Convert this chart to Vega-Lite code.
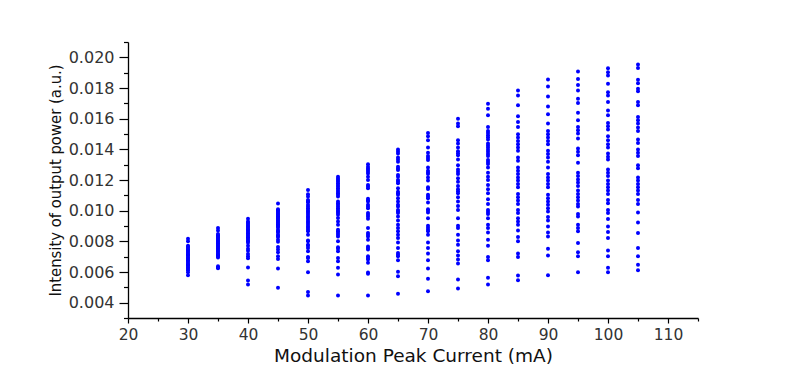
{
  "$schema": "https://vega.github.io/schema/vega-lite/v6.json",
  "autosize": {"type": "none"},
  "width": 570,
  "height": 276,
  "padding": {"left": 128, "top": 42, "right": 96, "bottom": 50},
  "background": "white",
  "config": {"view": {"stroke": null}},
  "data": {"values": [
    {"x":30,"y":0.00817},{"x":30,"y":0.0080},{"x":30,"y":0.00772},{"x":30,"y":0.00765},{"x":30,"y":0.00757},{"x":30,"y":0.00749},{"x":30,"y":0.00741},{"x":30,"y":0.00732},{"x":30,"y":0.00724},{"x":30,"y":0.00716},{"x":30,"y":0.00709},{"x":30,"y":0.00700},{"x":30,"y":0.00692},{"x":30,"y":0.00684},{"x":30,"y":0.00676},{"x":30,"y":0.00668},{"x":30,"y":0.00659},{"x":30,"y":0.00651},{"x":30,"y":0.00644},{"x":30,"y":0.00635},{"x":30,"y":0.00627},{"x":30,"y":0.00619},{"x":30,"y":0.00612},{"x":30,"y":0.00599},{"x":30,"y":0.00579},
    {"x":35,"y":0.00887},{"x":35,"y":0.00871},{"x":35,"y":0.00848},{"x":35,"y":0.0084},{"x":35,"y":0.00832},{"x":35,"y":0.00825},{"x":35,"y":0.00817},{"x":35,"y":0.0081},{"x":35,"y":0.00802},{"x":35,"y":0.00795},{"x":35,"y":0.00787},{"x":35,"y":0.0078},{"x":35,"y":0.00772},{"x":35,"y":0.00765},{"x":35,"y":0.00757},{"x":35,"y":0.0075},{"x":35,"y":0.00741},{"x":35,"y":0.00733},{"x":35,"y":0.00724},{"x":35,"y":0.00716},{"x":35,"y":0.00709},{"x":35,"y":0.00701},{"x":35,"y":0.00694},{"x":35,"y":0.00637},{"x":35,"y":0.00630},{"x":35,"y":0.00624},
    {"x":40,"y":0.00947},{"x":40,"y":0.0093},{"x":40,"y":0.00921},{"x":40,"y":0.00913},{"x":40,"y":0.00904},{"x":40,"y":0.00895},{"x":40,"y":0.00887},{"x":40,"y":0.00878},{"x":40,"y":0.0087},{"x":40,"y":0.00861},{"x":40,"y":0.00852},{"x":40,"y":0.00843},{"x":40,"y":0.00835},{"x":40,"y":0.00826},{"x":40,"y":0.00818},{"x":40,"y":0.00809},{"x":40,"y":0.008},{"x":40,"y":0.00791},{"x":40,"y":0.00772},{"x":40,"y":0.00752},{"x":40,"y":0.00739},{"x":40,"y":0.00718},{"x":40,"y":0.00702},{"x":40,"y":0.00689},{"x":40,"y":0.00629},{"x":40,"y":0.00545},{"x":40,"y":0.00519},
    {"x":45,"y":0.01046},{"x":45,"y":0.0101},{"x":45,"y":0.01002},{"x":45,"y":0.00994},{"x":45,"y":0.00986},{"x":45,"y":0.00979},{"x":45,"y":0.00971},{"x":45,"y":0.00964},{"x":45,"y":0.00956},{"x":45,"y":0.00949},{"x":45,"y":0.00941},{"x":45,"y":0.00934},{"x":45,"y":0.00926},{"x":45,"y":0.00919},{"x":45,"y":0.00911},{"x":45,"y":0.00903},{"x":45,"y":0.00896},{"x":45,"y":0.00889},{"x":45,"y":0.00874},{"x":45,"y":0.00866},{"x":45,"y":0.00858},{"x":45,"y":0.00843},{"x":45,"y":0.00835},{"x":45,"y":0.00828},{"x":45,"y":0.00811},{"x":45,"y":0.00798},{"x":45,"y":0.00763},{"x":45,"y":0.00746},{"x":45,"y":0.00728},{"x":45,"y":0.00702},{"x":45,"y":0.00685},{"x":45,"y":0.00623},{"x":45,"y":0.00497},
    {"x":50,"y":0.01135},{"x":50,"y":0.01107},{"x":50,"y":0.01092},{"x":50,"y":0.0107},{"x":50,"y":0.01062},{"x":50,"y":0.01055},{"x":50,"y":0.01038},{"x":50,"y":0.01027},{"x":50,"y":0.01016},{"x":50,"y":0.01005},{"x":50,"y":0.00994},{"x":50,"y":0.00984},{"x":50,"y":0.00973},{"x":50,"y":0.00962},{"x":50,"y":0.00952},{"x":50,"y":0.00941},{"x":50,"y":0.0093},{"x":50,"y":0.00919},{"x":50,"y":0.00908},{"x":50,"y":0.00897},{"x":50,"y":0.00887},{"x":50,"y":0.00876},{"x":50,"y":0.00865},{"x":50,"y":0.00843},{"x":50,"y":0.00806},{"x":50,"y":0.008},{"x":50,"y":0.00778},{"x":50,"y":0.00772},{"x":50,"y":0.00757},{"x":50,"y":0.00735},{"x":50,"y":0.00698},{"x":50,"y":0.00692},{"x":50,"y":0.0067},{"x":50,"y":0.00599},{"x":50,"y":0.00469},{"x":50,"y":0.00447},
    {"x":55,"y":0.01221},{"x":55,"y":0.0121},{"x":55,"y":0.012},{"x":55,"y":0.0119},{"x":55,"y":0.01179},{"x":55,"y":0.01168},{"x":55,"y":0.01157},{"x":55,"y":0.01146},{"x":55,"y":0.01135},{"x":55,"y":0.01124},{"x":55,"y":0.01114},{"x":55,"y":0.01103},{"x":55,"y":0.01092},{"x":55,"y":0.01059},{"x":55,"y":0.01049},{"x":55,"y":0.01038},{"x":55,"y":0.01027},{"x":55,"y":0.01016},{"x":55,"y":0.01005},{"x":55,"y":0.00994},{"x":55,"y":0.00984},{"x":55,"y":0.00973},{"x":55,"y":0.00952},{"x":55,"y":0.0093},{"x":55,"y":0.00908},{"x":55,"y":0.00876},{"x":55,"y":0.00865},{"x":55,"y":0.00854},{"x":55,"y":0.00843},{"x":55,"y":0.00832},{"x":55,"y":0.008},{"x":55,"y":0.00761},{"x":55,"y":0.00751},{"x":55,"y":0.00735},{"x":55,"y":0.00692},{"x":55,"y":0.0067},{"x":55,"y":0.00627},{"x":55,"y":0.00584},{"x":55,"y":0.00447},
    {"x":60,"y":0.01302},{"x":60,"y":0.01286},{"x":60,"y":0.01275},{"x":60,"y":0.01265},{"x":60,"y":0.01254},{"x":60,"y":0.01243},{"x":60,"y":0.01221},{"x":60,"y":0.012},{"x":60,"y":0.01168},{"x":60,"y":0.01157},{"x":60,"y":0.01146},{"x":60,"y":0.01077},{"x":60,"y":0.01068},{"x":60,"y":0.01059},{"x":60,"y":0.01038},{"x":60,"y":0.01027},{"x":60,"y":0.01016},{"x":60,"y":0.00984},{"x":60,"y":0.00973},{"x":60,"y":0.00962},{"x":60,"y":0.00947},{"x":60,"y":0.00887},{"x":60,"y":0.00854},{"x":60,"y":0.00843},{"x":60,"y":0.00832},{"x":60,"y":0.00811},{"x":60,"y":0.00767},{"x":60,"y":0.00757},{"x":60,"y":0.00746},{"x":60,"y":0.00702},{"x":60,"y":0.00692},{"x":60,"y":0.00681},{"x":60,"y":0.0066},{"x":60,"y":0.00596},{"x":60,"y":0.00588},{"x":60,"y":0.00447},
    {"x":65,"y":0.01399},{"x":65,"y":0.01386},{"x":65,"y":0.01373},{"x":65,"y":0.01347},{"x":65,"y":0.01334},{"x":65,"y":0.01319},{"x":65,"y":0.01286},{"x":65,"y":0.01275},{"x":65,"y":0.01265},{"x":65,"y":0.01232},{"x":65,"y":0.01221},{"x":65,"y":0.012},{"x":65,"y":0.0119},{"x":65,"y":0.01179},{"x":65,"y":0.01146},{"x":65,"y":0.01124},{"x":65,"y":0.01114},{"x":65,"y":0.01103},{"x":65,"y":0.01081},{"x":65,"y":0.01059},{"x":65,"y":0.01038},{"x":65,"y":0.01027},{"x":65,"y":0.01005},{"x":65,"y":0.00994},{"x":65,"y":0.00984},{"x":65,"y":0.00962},{"x":65,"y":0.00936},{"x":65,"y":0.00908},{"x":65,"y":0.00887},{"x":65,"y":0.00865},{"x":65,"y":0.00843},{"x":65,"y":0.00822},{"x":65,"y":0.00793},{"x":65,"y":0.00757},{"x":65,"y":0.00724},{"x":65,"y":0.00713},{"x":65,"y":0.00702},{"x":65,"y":0.00676},{"x":65,"y":0.00601},{"x":65,"y":0.00573},{"x":65,"y":0.00458},
    {"x":70,"y":0.01507},{"x":70,"y":0.01485},{"x":70,"y":0.0146},{"x":70,"y":0.01412},{"x":70,"y":0.01377},{"x":70,"y":0.01356},{"x":70,"y":0.01343},{"x":70,"y":0.0133},{"x":70,"y":0.01282},{"x":70,"y":0.0126},{"x":70,"y":0.01249},{"x":70,"y":0.01239},{"x":70,"y":0.01217},{"x":70,"y":0.01196},{"x":70,"y":0.01153},{"x":70,"y":0.01142},{"x":70,"y":0.01103},{"x":70,"y":0.01092},{"x":70,"y":0.01081},{"x":70,"y":0.01053},{"x":70,"y":0.0101},{"x":70,"y":0.00999},{"x":70,"y":0.00988},{"x":70,"y":0.00951},{"x":70,"y":0.00902},{"x":70,"y":0.00889},{"x":70,"y":0.00876},{"x":70,"y":0.00865},{"x":70,"y":0.00843},{"x":70,"y":0.00793},{"x":70,"y":0.00757},{"x":70,"y":0.0072},{"x":70,"y":0.00676},{"x":70,"y":0.00623},{"x":70,"y":0.00556},{"x":70,"y":0.00475},
    {"x":75,"y":0.016},{"x":75,"y":0.01568},{"x":75,"y":0.0155},{"x":75,"y":0.0146},{"x":75,"y":0.01438},{"x":75,"y":0.01412},{"x":75,"y":0.01388},{"x":75,"y":0.01375},{"x":75,"y":0.01362},{"x":75,"y":0.01334},{"x":75,"y":0.01297},{"x":75,"y":0.01269},{"x":75,"y":0.01254},{"x":75,"y":0.01239},{"x":75,"y":0.01211},{"x":75,"y":0.01189},{"x":75,"y":0.01161},{"x":75,"y":0.0114},{"x":75,"y":0.01127},{"x":75,"y":0.01114},{"x":75,"y":0.01088},{"x":75,"y":0.01059},{"x":75,"y":0.01031},{"x":75,"y":0.01005},{"x":75,"y":0.00951},{"x":75,"y":0.00902},{"x":75,"y":0.00887},{"x":75,"y":0.00843},{"x":75,"y":0.00806},{"x":75,"y":0.00778},{"x":75,"y":0.00735},{"x":75,"y":0.00707},{"x":75,"y":0.00681},{"x":75,"y":0.00655},{"x":75,"y":0.00551},{"x":75,"y":0.00493},
    {"x":80,"y":0.01698},{"x":80,"y":0.01665},{"x":80,"y":0.01622},{"x":80,"y":0.01546},{"x":80,"y":0.0152},{"x":80,"y":0.01506},{"x":80,"y":0.01492},{"x":80,"y":0.01478},{"x":80,"y":0.01464},{"x":80,"y":0.01438},{"x":80,"y":0.01425},{"x":80,"y":0.01412},{"x":80,"y":0.01398},{"x":80,"y":0.01384},{"x":80,"y":0.0137},{"x":80,"y":0.01356},{"x":80,"y":0.0133},{"x":80,"y":0.01317},{"x":80,"y":0.01304},{"x":80,"y":0.01282},{"x":80,"y":0.01247},{"x":80,"y":0.01221},{"x":80,"y":0.012},{"x":80,"y":0.01168},{"x":80,"y":0.0114},{"x":80,"y":0.01114},{"x":80,"y":0.01075},{"x":80,"y":0.01044},{"x":80,"y":0.01005},{"x":80,"y":0.00992},{"x":80,"y":0.00979},{"x":80,"y":0.00951},{"x":80,"y":0.00908},{"x":80,"y":0.00887},{"x":80,"y":0.00858},{"x":80,"y":0.00811},{"x":80,"y":0.00772},{"x":80,"y":0.00698},{"x":80,"y":0.00676},{"x":80,"y":0.00562},{"x":80,"y":0.00519},
    {"x":85,"y":0.01784},{"x":85,"y":0.01751},{"x":85,"y":0.01687},{"x":85,"y":0.01615},{"x":85,"y":0.01578},{"x":85,"y":0.01546},{"x":85,"y":0.01498},{"x":85,"y":0.01477},{"x":85,"y":0.01455},{"x":85,"y":0.01433},{"x":85,"y":0.01412},{"x":85,"y":0.0139},{"x":85,"y":0.01347},{"x":85,"y":0.01325},{"x":85,"y":0.01282},{"x":85,"y":0.0126},{"x":85,"y":0.01239},{"x":85,"y":0.01217},{"x":85,"y":0.01196},{"x":85,"y":0.01174},{"x":85,"y":0.01153},{"x":85,"y":0.01109},{"x":85,"y":0.01088},{"x":85,"y":0.01066},{"x":85,"y":0.01044},{"x":85,"y":0.01005},{"x":85,"y":0.00984},{"x":85,"y":0.00951},{"x":85,"y":0.00929},{"x":85,"y":0.00908},{"x":85,"y":0.00871},{"x":85,"y":0.00828},{"x":85,"y":0.008},{"x":85,"y":0.0072},{"x":85,"y":0.00698},{"x":85,"y":0.00577},{"x":85,"y":0.00546},
    {"x":90,"y":0.01855},{"x":90,"y":0.0181},{"x":90,"y":0.01745},{"x":90,"y":0.0168},{"x":90,"y":0.01628},{"x":90,"y":0.01568},{"x":90,"y":0.0152},{"x":90,"y":0.01498},{"x":90,"y":0.01477},{"x":90,"y":0.01455},{"x":90,"y":0.01433},{"x":90,"y":0.0139},{"x":90,"y":0.01369},{"x":90,"y":0.01347},{"x":90,"y":0.01319},{"x":90,"y":0.01282},{"x":90,"y":0.01239},{"x":90,"y":0.01217},{"x":90,"y":0.01196},{"x":90,"y":0.01174},{"x":90,"y":0.01153},{"x":90,"y":0.01103},{"x":90,"y":0.01081},{"x":90,"y":0.01059},{"x":90,"y":0.01038},{"x":90,"y":0.01016},{"x":90,"y":0.00994},{"x":90,"y":0.00958},{"x":90,"y":0.00936},{"x":90,"y":0.00897},{"x":90,"y":0.00858},{"x":90,"y":0.00832},{"x":90,"y":0.00752},{"x":90,"y":0.00707},{"x":90,"y":0.00579},
    {"x":95,"y":0.01907},{"x":95,"y":0.01859},{"x":95,"y":0.0182},{"x":95,"y":0.01784},{"x":95,"y":0.0173},{"x":95,"y":0.01702},{"x":95,"y":0.01639},{"x":95,"y":0.0159},{"x":95,"y":0.01546},{"x":95,"y":0.01524},{"x":95,"y":0.01503},{"x":95,"y":0.0147},{"x":95,"y":0.01405},{"x":95,"y":0.01384},{"x":95,"y":0.01362},{"x":95,"y":0.01312},{"x":95,"y":0.01247},{"x":95,"y":0.01226},{"x":95,"y":0.01204},{"x":95,"y":0.01183},{"x":95,"y":0.01161},{"x":95,"y":0.01131},{"x":95,"y":0.01109},{"x":95,"y":0.01088},{"x":95,"y":0.01066},{"x":95,"y":0.01044},{"x":95,"y":0.01027},{"x":95,"y":0.00979},{"x":95,"y":0.00962},{"x":95,"y":0.00908},{"x":95,"y":0.00887},{"x":95,"y":0.00865},{"x":95,"y":0.00789},{"x":95,"y":0.00728},{"x":95,"y":0.00702},{"x":95,"y":0.00599},
    {"x":100,"y":0.01929},{"x":100,"y":0.01903},{"x":100,"y":0.01881},{"x":100,"y":0.01827},{"x":100,"y":0.01773},{"x":100,"y":0.01751},{"x":100,"y":0.01708},{"x":100,"y":0.01654},{"x":100,"y":0.01622},{"x":100,"y":0.01572},{"x":100,"y":0.0155},{"x":100,"y":0.01529},{"x":100,"y":0.01485},{"x":100,"y":0.0146},{"x":100,"y":0.01433},{"x":100,"y":0.01412},{"x":100,"y":0.01373},{"x":100,"y":0.01351},{"x":100,"y":0.01334},{"x":100,"y":0.01269},{"x":100,"y":0.01247},{"x":100,"y":0.01226},{"x":100,"y":0.01196},{"x":100,"y":0.01174},{"x":100,"y":0.01153},{"x":100,"y":0.01131},{"x":100,"y":0.01109},{"x":100,"y":0.0107},{"x":100,"y":0.01049},{"x":100,"y":0.01005},{"x":100,"y":0.00984},{"x":100,"y":0.00945},{"x":100,"y":0.00897},{"x":100,"y":0.00861},{"x":100,"y":0.00822},{"x":100,"y":0.00741},{"x":100,"y":0.00702},{"x":100,"y":0.00627},{"x":100,"y":0.00599},
    {"x":105,"y":0.01953},{"x":105,"y":0.01931},{"x":105,"y":0.01853},{"x":105,"y":0.01831},{"x":105,"y":0.01795},{"x":105,"y":0.01779},{"x":105,"y":0.01708},{"x":105,"y":0.01687},{"x":105,"y":0.01611},{"x":105,"y":0.0159},{"x":105,"y":0.01568},{"x":105,"y":0.01542},{"x":105,"y":0.0152},{"x":105,"y":0.01464},{"x":105,"y":0.01442},{"x":105,"y":0.01399},{"x":105,"y":0.01377},{"x":105,"y":0.01356},{"x":105,"y":0.01297},{"x":105,"y":0.01276},{"x":105,"y":0.01217},{"x":105,"y":0.01196},{"x":105,"y":0.01174},{"x":105,"y":0.01153},{"x":105,"y":0.01131},{"x":105,"y":0.01109},{"x":105,"y":0.0107},{"x":105,"y":0.01044},{"x":105,"y":0.00988},{"x":105,"y":0.00923},{"x":105,"y":0.00854},{"x":105,"y":0.00757},{"x":105,"y":0.00702},{"x":105,"y":0.00648},{"x":105,"y":0.00611}
  ]},
  "mark": {"type": "point", "filled": true, "shape": "circle", "size": 16, "color": "#0000ff", "opacity": 1},
  "encoding": {
    "x": {
      "field": "x", "type": "quantitative",
      "scale": {"domain": [20, 115], "nice": false, "zero": false},
      "axis": {
        "title": "Modulation Peak Current (mA)",
        "values": [20,25,30,35,40,45,50,55,60,65,70,75,80,85,90,95,100,105,110,115],
        "labelExpr": "datum.value % 10 == 0 ? format(datum.value, 'd') : ''",
        "tickSize": {"condition": {"test": "datum.value % 10 == 0", "value": 5}, "value": 3},
        "grid": false,
        "domainColor": "#000000", "domainWidth": 1.3,
        "tickColor": "#000000", "tickWidth": 1.2,
        "labelFont": "DejaVu Sans", "labelFontSize": 15.5, "labelColor": "#333333",
        "labelPadding": 4, "labelOverlap": false, "labelBound": false, "labelFlush": false,
        "titleFont": "DejaVu Sans", "titleFontSize": 18.5, "titleFontWeight": "normal", "titleColor": "#111111",
        "titlePadding": 4
      }
    },
    "y": {
      "field": "y", "type": "quantitative",
      "scale": {"domain": [0.003, 0.021], "nice": false, "zero": false},
      "axis": {
        "title": "Intensity of output power (a.u.)",
        "values": [0.003,0.004,0.005,0.006,0.007,0.008,0.009,0.010,0.011,0.012,0.013,0.014,0.015,0.016,0.017,0.018,0.019,0.020,0.021],
        "labelExpr": "(round(datum.value*1000) % 2 == 0 && datum.value > 0.0035) ? format(datum.value, '.3f') : ''",
        "tickSize": {"condition": {"test": "round(datum.value*1000) % 2 == 0", "value": 9}, "value": 4.5},
        "grid": false,
        "domainColor": "#000000", "domainWidth": 1.3,
        "tickColor": "#000000", "tickWidth": 1.2,
        "labelFont": "DejaVu Sans", "labelFontSize": 16, "labelColor": "#333333",
        "labelPadding": 5, "labelOverlap": false, "labelBound": false, "labelFlush": false,
        "titleFont": "Liberation Sans Narrow, DejaVu Sans Condensed, Liberation Sans", "titleFontSize": 16.5, "titleFontWeight": "normal", "titleColor": "#111111",
        "titlePadding": 5
      }
    }
  }
}
